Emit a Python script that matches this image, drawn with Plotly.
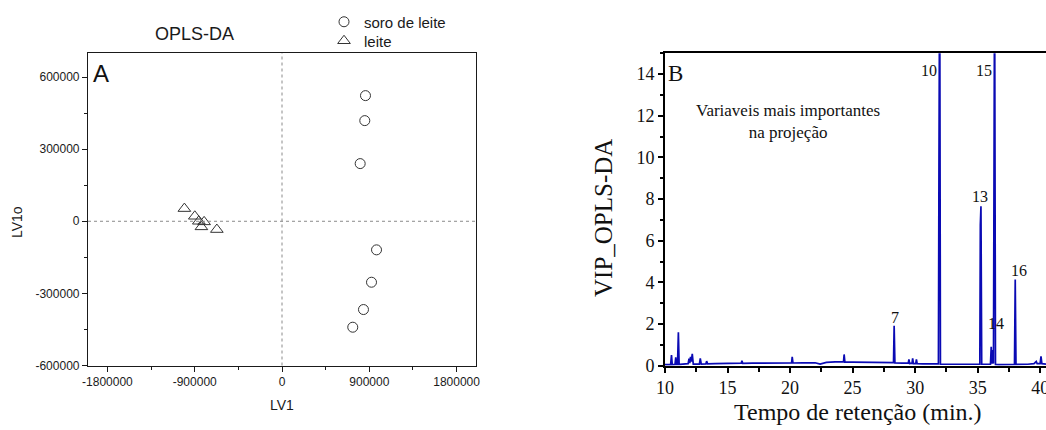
import plotly.graph_objects as go

W, H = 1046, 430

# ---- Panel A: OPLS-DA scores ----
soro_lv1 = [860700, 853500, 806000, 974400, 922700, 840000, 729500]
soro_lv1o = [522700, 418700, 239900, -118900, -253600, -367200, -440700]
leite_lv1 = [-1006400, -899000, -857600, -802900, -830800, -671600]
leite_lv1o = [52800, 20800, 0, -2500, -23300, -34500]

a_xticks = [-1800000, -900000, 0, 900000, 1800000]
a_xticktext = ["-1800000", "-900000", "0", "900000", "1800000"]
a_yticks = [-600000, -300000, 0, 300000, 600000]
a_yticktext = ["-600000", "-300000", "0", "300000", "600000"]

# ---- Panel B: VIP profile along retention time ----
rt_min = [10.0, 10.45, 10.52, 10.58, 10.8, 10.86, 10.92, 11.0, 11.07, 11.13,
          11.2, 11.85, 11.92, 11.98, 12.04, 12.1, 12.18, 12.26, 12.75, 12.82,
          12.9, 13.27, 13.33, 13.4, 14.0, 15.0, 16.1, 16.15, 16.22, 17.0,
          18.0, 19.0, 20.12, 20.17, 20.23, 21.0, 22.0, 22.4, 22.9, 23.6,
          24.27, 24.32, 24.38, 25.0, 26.0, 27.0, 28.0, 28.27, 28.32, 28.38,
          29.0, 29.45, 29.5, 29.56, 29.75, 29.8, 29.86, 30.05, 30.1, 30.16,
          30.6, 31.2, 31.86, 31.9, 31.96, 32.02, 32.5, 33.0, 34.0, 35.0,
          35.17, 35.21, 35.26, 35.32, 35.7, 36.02, 36.08, 36.13, 36.2, 36.26,
          36.35, 36.42, 36.7, 37.2, 37.94, 38.0, 38.06, 39.0, 39.5, 39.68,
          39.75, 39.99, 40.06, 40.13, 40.46]
vip = [0.05, 0.05, 0.51, 0.05, 0.06, 0.40, 0.06, 0.06, 1.60, 0.06,
       0.06, 0.10, 0.34, 0.12, 0.43, 0.20, 0.57, 0.08, 0.08, 0.35,
       0.08, 0.09, 0.22, 0.09, 0.10, 0.11, 0.12, 0.24, 0.11, 0.12,
       0.12, 0.13, 0.13, 0.42, 0.13, 0.14, 0.14, 0.08, 0.16, 0.18,
       0.18, 0.54, 0.17, 0.17, 0.17, 0.16, 0.15, 0.15, 1.92, 0.13,
       0.12, 0.12, 0.30, 0.10, 0.12, 0.35, 0.10, 0.11, 0.30, 0.10,
       0.09, 0.08, 0.09, 9.30, 20.0, 0.07, 0.07, 0.08, 0.07, 0.07,
       0.08, 6.75, 7.66, 0.07, 0.06, 0.07, 0.91, 0.10, 0.75, 0.10,
       19.0, 0.06, 0.05, 0.06, 0.06, 4.14, 0.06, 0.07, 0.10, 0.20,
       0.10, 0.10, 0.45, 0.10, 0.08]

peak_ids = ["10", "15", "13", "16", "7", "14"]
peak_label_rt = [31.08, 35.48, 35.22, 38.27, 28.42, 36.43]
peak_label_vip = [14.15, 14.15, 8.11, 4.55, 2.31, 2.03]

b_xticks = [10, 15, 20, 25, 30, 35, 40]
b_yticks = [0, 2, 4, 6, 8, 10, 12, 14]

SANS = "Liberation Sans, Arial, sans-serif"
SERIF = "Liberation Serif, Times New Roman, serif"
INK = "#1a1a1a"


def px(x):
    return x / W


def py(y):
    return 1 - y / H


fig = go.Figure()

fig.add_trace(go.Scatter(
    x=soro_lv1, y=soro_lv1o, mode="markers", name="soro de leite",
    marker=dict(symbol="circle-open", size=10, color="#333333", line=dict(width=1)),
    xaxis="x", yaxis="y", legend="legend"))
fig.add_trace(go.Scatter(
    x=leite_lv1, y=leite_lv1o, mode="markers", name="leite",
    marker=dict(symbol="triangle-up-open", size=11, color="#333333", line=dict(width=1)),
    xaxis="x", yaxis="y", legend="legend2"))

fig.add_trace(go.Scatter(
    x=rt_min, y=vip, mode="lines", showlegend=False,
    line=dict(color="#0a0ab4", width=1.7),
    xaxis="x2", yaxis="y2"))

annotations = [
    dict(text="OPLS-DA", x=px(194), y=py(34), xref="paper", yref="paper",
         showarrow=False, xanchor="center", yanchor="middle",
         font=dict(family=SANS, size=18, color=INK)),
    dict(text="A", x=px(91), y=py(73), xref="paper", yref="paper",
         showarrow=False, xanchor="left", yanchor="middle",
         font=dict(family=SANS, size=24, color="#111111")),
    dict(text="LV1", x=px(282), y=py(405), xref="paper", yref="paper",
         showarrow=False, xanchor="center", yanchor="middle",
         font=dict(family=SANS, size=14, color=INK)),
    dict(text="LV1o", x=px(17), y=py(222), xref="paper", yref="paper",
         showarrow=False, xanchor="center", yanchor="middle", textangle=-90,
         font=dict(family=SANS, size=14, color=INK)),
    dict(text="B", x=px(666), y=py(73), xref="paper", yref="paper",
         showarrow=False, xanchor="left", yanchor="middle",
         font=dict(family=SERIF, size=23, color="#111111")),
    dict(text="VIP_OPLS-DA", x=px(603), y=py(218), xref="paper", yref="paper",
         showarrow=False, xanchor="center", yanchor="middle", textangle=-90,
         font=dict(family=SERIF, size=25, color="#111111")),
    dict(text="Tempo de retenção (min.)", x=px(858), y=py(412), xref="paper", yref="paper",
         showarrow=False, xanchor="center", yanchor="middle",
         font=dict(family=SERIF, size=24, color="#111111")),
    dict(text="Variaveis mais importantes<br>na projeção", x=px(787.5), y=py(121),
         xref="paper", yref="paper", showarrow=False, xanchor="center", yanchor="middle",
         align="center", font=dict(family=SERIF, size=17, color="#111111")),
]
for lbl, xr, yv in zip(peak_ids, peak_label_rt, peak_label_vip):
    annotations.append(dict(
        text=lbl, x=xr, y=yv, xref="x2", yref="y2", showarrow=False,
        xanchor="center", yanchor="middle",
        font=dict(family=SERIF, size=16, color="#111111")))

shapes = [
    dict(type="line", xref="x", yref="y domain", x0=0, x1=0, y0=0, y1=1,
         line=dict(color="#8a8a8a", width=1, dash="dot")),
    dict(type="line", xref="x domain", yref="y", x0=0, x1=1, y0=0, y1=0,
         line=dict(color="#8a8a8a", width=1, dash="dot")),
]

legend_style = dict(xanchor="left", yanchor="middle",
                    font=dict(family=SANS, size=15, color=INK),
                    bgcolor="rgba(0,0,0,0)", borderwidth=0)

fig.update_layout(
    width=W, height=H,
    margin=dict(l=0, r=0, t=0, b=0, autoexpand=False),
    paper_bgcolor="white", plot_bgcolor="white",
    showlegend=True,
    legend=dict(x=px(324), y=py(22), **legend_style),
    legend2=dict(x=px(324), y=py(41), **legend_style),
    annotations=annotations,
    shapes=shapes,
    xaxis=dict(domain=[px(88), px(476)], range=[-2000000, 2000000], anchor="y",
               automargin=False,
               showline=True, linecolor=INK, linewidth=1.2, mirror=True,
               showgrid=False, zeroline=False,
               ticks="outside", ticklen=5, tickwidth=1, tickcolor=INK,
               tickvals=a_xticks, ticktext=a_xticktext,
               tickfont=dict(family=SANS, size=12, color=INK),
               minor=dict(ticks="outside", ticklen=3, tickwidth=1, tickcolor=INK,
                          tick0=-1800000, dtick=450000)),
    yaxis=dict(domain=[py(365.5), py(53)], range=[-600000, 700000], anchor="x",
               automargin=False,
               showline=True, linecolor=INK, linewidth=1.2, mirror=True,
               showgrid=False, zeroline=False,
               ticks="outside", ticklen=5, tickwidth=1, tickcolor=INK,
               tickvals=a_yticks, ticktext=a_yticktext,
               tickfont=dict(family=SANS, size=12, color=INK),
               minor=dict(ticks="outside", ticklen=3, tickwidth=1, tickcolor=INK,
                          tick0=-600000, dtick=150000)),
    xaxis2=dict(domain=[px(665), 1.0], range=[10, 40.46], anchor="y2",
                automargin=False,
                showline=True, linecolor="black", linewidth=2, mirror=True,
                showgrid=False, zeroline=False,
                ticks="outside", ticklen=5, tickwidth=1.5, tickcolor="black",
                tickvals=b_xticks, ticklabeloverflow="allow",
                tickfont=dict(family=SERIF, size=18, color="#111111"),
                minor=dict(ticks="outside", ticklen=4, tickwidth=1.5, tickcolor="black",
                           tick0=10, dtick=2.5)),
    yaxis2=dict(domain=[py(365.7), py(53.3)], range=[0, 15], anchor="x2",
                automargin=False,
                showline=True, linecolor="black", linewidth=2, mirror=False,
                showgrid=False, zeroline=False,
                ticks="outside", ticklen=5, tickwidth=1.5, tickcolor="black",
                tickvals=b_yticks,
                tickfont=dict(family=SERIF, size=18, color="#111111"),
                minor=dict(ticks="outside", ticklen=3, tickwidth=1.5, tickcolor="black",
                           tick0=0, dtick=1)),
)

fig.write_html("out.html")
